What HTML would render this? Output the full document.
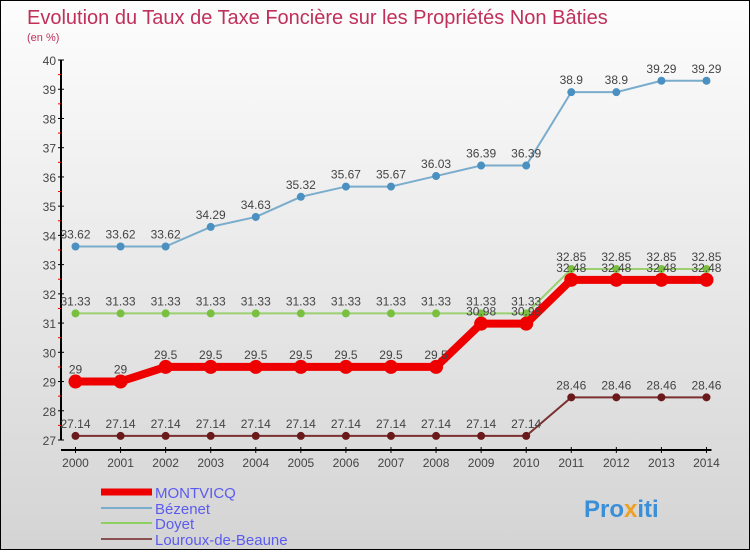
<!DOCTYPE html>
<html><head><meta charset="utf-8"><style>
html,body{margin:0;padding:0}
body{width:750px;height:550px;overflow:hidden;font-family:"Liberation Sans",sans-serif}
#wrap{position:relative;width:748px;height:548px;border:1px solid #000;background:linear-gradient(#fdfdfd,#d4d4d4)}
</style></head><body>
<div id="wrap">
<svg id="chart" width="748" height="548" xmlns="http://www.w3.org/2000/svg">
<text x="26" y="23" font-size="20" fill="#c0305a">Evolution du Taux de Taxe Foncière sur les Propriétés Non Bâties</text>
<text x="26" y="40" font-size="11" fill="#c0305a">(en %)</text>
<g id="axes"></g><g id="series"></g>
<g>
<line x1="100" y1="491" x2="151" y2="491" stroke="#ee0000" stroke-width="7"/>
<text x="154" y="497" font-size="15" fill="#5b5bf0">MONTVICQ</text>
<line x1="100" y1="507" x2="151" y2="507" stroke="#7aaccc" stroke-width="2"/>
<text x="154" y="513" font-size="15" fill="#5b5bf0">Bézenet</text>
<line x1="100" y1="522" x2="151" y2="522" stroke="#8ed060" stroke-width="2"/>
<text x="154" y="528" font-size="15" fill="#5b5bf0">Doyet</text>
<line x1="100" y1="538" x2="151" y2="538" stroke="#8a5050" stroke-width="2"/>
<text x="154" y="544" font-size="15" fill="#5b5bf0">Louroux-de-Beaune</text>
</g>
<text x="583" y="516" font-size="24" font-weight="bold" fill="#3a8fd8">Pro<tspan fill="#f0a020">x</tspan>iti</text>
</svg>
</div>
<script>
const years=[2000,2001,2002,2003,2004,2005,2006,2007,2008,2009,2010,2011,2012,2013,2014];
const yTicks=[27,28,29,30,31,32,33,34,35,36,37,38,39,40];
const montvicq=[29,29,29.5,29.5,29.5,29.5,29.5,29.5,29.5,30.98,30.98,32.48,32.48,32.48,32.48];
const bezenet=[33.62,33.62,33.62,34.29,34.63,35.32,35.67,35.67,36.03,36.39,36.39,38.9,38.9,39.29,39.29];
const doyet=[31.33,31.33,31.33,31.33,31.33,31.33,31.33,31.33,31.33,31.33,31.33,32.85,32.85,32.85,32.85];
const louroux=[27.14,27.14,27.14,27.14,27.14,27.14,27.14,27.14,27.14,27.14,27.14,28.46,28.46,28.46,28.46];
const NS="http://www.w3.org/2000/svg";
const X=i=>74.5+i*45.07;
const Y=v=>439-(v-27)*29.23;
function mk(tag,attrs,parent,text){const e=document.createElementNS(NS,tag);for(const k in attrs)e.setAttribute(k,attrs[k]);if(text!==undefined)e.textContent=text;parent.appendChild(e);return e;}
const ax=document.getElementById('axes');
let yl=mk('line',{x1:60,y1:Y(40),x2:60,y2:Y(27),stroke:'#000','stroke-width':2},ax);


let xl=mk('line',{x1:60,y1:449,x2:X(14)+5,y2:449,stroke:'#000','stroke-width':2},ax);


yTicks.forEach((t,i)=>{
  mk('line',{x1:57,y1:Y(t),x2:63,y2:Y(t),stroke:'#000'},ax);
  if(i<yTicks.length-1)mk('line',{x1:57,y1:Y(t+0.5),x2:60,y2:Y(t+0.5),stroke:'#e00'},ax);
  const tx=mk('text',{x:55,y:Y(t)+5,'font-size':12,fill:'#444','text-anchor':'end'},ax,String(t));
  
  
});
years.forEach((yr,i)=>{
  mk('line',{x1:X(i),y1:446,x2:X(i),y2:452,stroke:'#000'},ax);
  const tx=mk('text',{x:X(i),y:466,'font-size':12,fill:'#444','text-anchor':'middle'},ax,String(yr));
  
  
});
const sg=document.getElementById('series');
function series(vals,name,color,w,r,dotColor,labelColor){
  const g=mk('g',{},sg);
  
  
  const p=mk('polyline',{points:vals.map((v,i)=>X(i)+','+Y(v)).join(' '),fill:'none',stroke:color,'stroke-width':w,'stroke-linejoin':'round'},g);
  
  
  vals.forEach((v,i)=>{
    const c=mk('circle',{cx:X(i),cy:Y(v),r:r,fill:dotColor},g);
    
    
    const t=mk('text',{x:X(i),y:Y(v)-8,'font-size':12,fill:labelColor,'text-anchor':'middle'},g,String(v));
    
    
  });
}
series(louroux,'louroux','#7a3030',2,4,'#6a1a1a','#444');
series(doyet,'doyet','#9ad070',2,4,'#7ac040','#444');
series(bezenet,'bezenet','#7aaccc',2,4,'#4a90c0','#444');
series(montvicq,'montvicq','#ee0000',8,7,'#ee0000','#444');
</script>
</body></html>
